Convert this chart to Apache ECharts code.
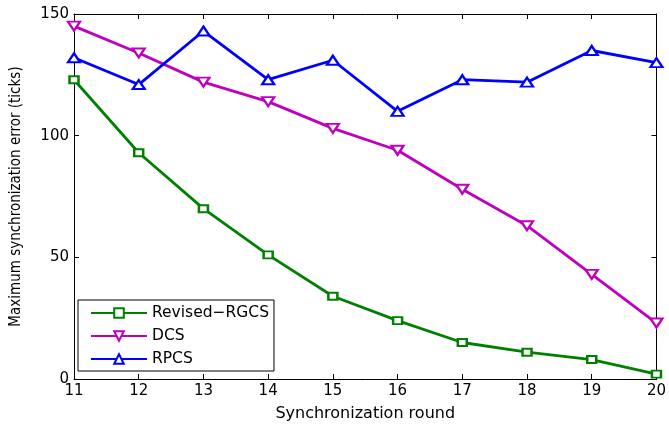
<!DOCTYPE html>
<html><head><meta charset="utf-8">
<script src="https://cdn.jsdelivr.net/npm/echarts@6/dist/echarts.min.js"></script>
<style>html,body{margin:0;padding:0;background:#fff}#c{width:669px;height:427px}</style>
</head><body><div id="c"></div>
<script>
const rounds = [11, 12, 13, 14, 15, 16, 17, 18, 19, 20];
const revisedRGCS = [123, 93, 70, 51, 34, 24, 15, 11, 8, 2];
const dcs = [145, 134, 122, 114, 103, 94, 78, 63, 43, 23];
const rpcs = [132, 121, 143, 123, 131, 110, 123, 122, 135, 130];
const seriesNames = ['Revised\u2212RGCS', 'DCS', 'RPCS'];
const xName = 'Synchronization round';
const yName = 'Maximum synchronization error (ticks)';

const font = 'DejaVu Sans';
const chart = echarts.init(document.getElementById('c'), null, {renderer: 'canvas'});
function pts(v) { return rounds.map((r, i) => [r, v[i]]); }
function mkSeries(name, vals, color, symbol, size, rot) {
  return {
    name, type: 'line', data: pts(vals), symbol, symbolSize: size, symbolRotate: rot || 0,
    clip: false, animation: false,
    lineStyle: {color, width: 2.8},
    itemStyle: {color: '#fff', borderColor: color, borderWidth: 2.2},
    emphasis: {disabled: true}
  };
}
const axisCommon = {
  axisLine: {show: true, onZero: false, lineStyle: {color: '#000', width: 1}},
  axisTick: {show: true, inside: true, length: 5, lineStyle: {color: '#000'}},
  splitLine: {show: false}
};
chart.setOption({
  backgroundColor: '#fff',
  animation: false,
  grid: {left: 74, right: 8, top: 14, bottom: 44, containLabel: false},
  xAxis: [
    Object.assign({type: 'value', min: 11, max: 20, interval: 1, position: 'bottom',
      name: xName, nameLocation: 'middle', nameGap: 27,
      nameTextStyle: {fontFamily: font, fontSize: 16, color: '#000'},
      axisLabel: {margin: 5, fontFamily: font, fontSize: 15, color: '#000'}}, axisCommon),
    Object.assign({type: 'value', min: 11, max: 20, interval: 1, position: 'top',
      axisLabel: {show: false}}, axisCommon)
  ],
  yAxis: [
    Object.assign({type: 'value', min: 0, max: 150, interval: 50, position: 'left',
      name: yName, nameLocation: 'middle', nameGap: 50, nameRotate: 90,
      nameTextStyle: {fontFamily: 'DejaVu Sans Condensed', fontSize: 15, color: '#000'},
      axisLabel: {margin: 5, fontFamily: font, fontSize: 15, color: '#000'}}, axisCommon),
    Object.assign({type: 'value', min: 0, max: 150, interval: 50, position: 'right',
      axisLabel: {show: false}}, axisCommon)
  ],
  legend: {
    data: seriesNames, orient: 'vertical', left: 78, top: 300,
    backgroundColor: '#fff', borderColor: '#000', borderWidth: 1,
    padding: [5, 5, 4, 12], itemWidth: 56, itemHeight: 12, itemGap: 7,
    textStyle: {fontFamily: font, fontSize: 15.5, color: '#000'},
    selectedMode: false
  },
  series: [
    mkSeries(seriesNames[0], revisedRGCS, '#008000', 'rect', [9, 7]),
    mkSeries(seriesNames[1], dcs, '#bf00bf', 'triangle', [12, 9], 180),
    mkSeries(seriesNames[2], rpcs, '#0000ff', 'triangle', [12, 9])
  ]
});
</script></body></html>
